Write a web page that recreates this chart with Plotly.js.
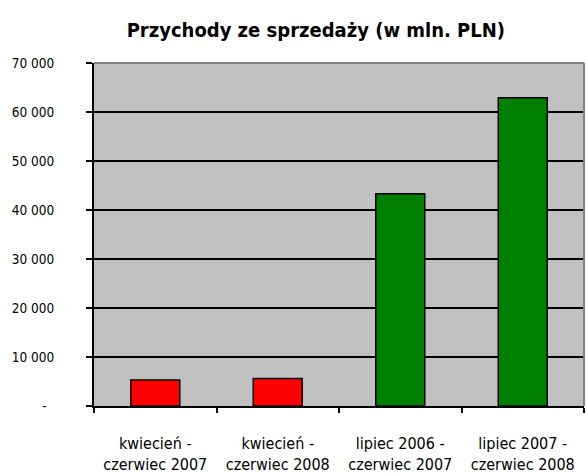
<!DOCTYPE html>
<html>
<head>
<meta charset="utf-8">
<script src="https://cdn.plot.ly/plotly-3.0.1.min.js"></script>
<style>
html,body{margin:0;padding:0;background:#fff;}
#chart{width:586px;height:476px;}
</style>
</head>
<body>
<div id="chart"></div>
<script>
var categories = ["kwiecień -<br>czerwiec 2007", "kwiecień -<br>czerwiec 2008", "lipiec 2006 -<br>czerwiec 2007", "lipiec 2007 -<br>czerwiec 2008"];
var revenue = [5300, 5600, 43300, 62900];
var barColors = ["#FF0000", "#FF0000", "#008000", "#008000"];
var yTickVals = [0, 10000, 20000, 30000, 40000, 50000, 60000, 70000];
var yTickText = ["-\u00a0\u00a0", "10 000", "20 000", "30 000", "40 000", "50 000", "60 000", "70 000"];
var chartTitle = "Przychody ze sprzedaży (w mln. PLN)";

var trace = {
  type: "bar",
  x: categories,
  y: revenue,
  width: 0.4,
  marker: {color: barColors, line: {color: "#000000", width: 1.5}},
  hoverinfo: "x+y"
};

var layout = {
  width: 586,
  height: 476,
  margin: {l: 94, r: 2, t: 63, b: 70, pad: 0},
  paper_bgcolor: "#FFFFFF",
  plot_bgcolor: "#C0C0C0",
  showlegend: false,
  title: {
    text: "<b>" + chartTitle + "</b>",
    font: {family: "DejaVu Sans Condensed, DejaVu Sans", size: 20, color: "#000000"},
    x: 0.539, xref: "container", xanchor: "center",
    y: 0.938, yref: "container", yanchor: "middle"
  },
  xaxis: {
    type: "category",
    showgrid: false,
    showline: true, linecolor: "#000000", linewidth: 2,
    ticks: "outside", tickson: "boundaries", ticklen: 5, tickwidth: 2, tickcolor: "#000000",
    tickfont: {family: "DejaVu Sans Condensed, DejaVu Sans", size: 16, color: "#000000"},
    ticklabelstandoff: 22,
    zeroline: false,
    fixedrange: true
  },
  yaxis: {
    range: [0, 70000],
    tickvals: yTickVals,
    ticktext: yTickText,
    showgrid: true, gridcolor: "#000000", gridwidth: 2,
    showline: true, linecolor: "#000000", linewidth: 2,
    ticks: "outside", ticklen: 6, tickwidth: 2, tickcolor: "#000000",
    tickfont: {family: "DejaVu Sans Condensed, DejaVu Sans", size: 13.5, color: "#000000"},
    ticklabelstandoff: 29,
    zeroline: false,
    fixedrange: true
  },
  shapes: [
    {type: "line", xref: "paper", yref: "paper", x0: 0, x1: 1, y0: 1, y1: 1, line: {color: "#808080", width: 2}, layer: "above"},
    {type: "line", xref: "paper", yref: "paper", x0: 1, x1: 1, y0: 0, y1: 1, line: {color: "#808080", width: 2}, layer: "above"}
  ]
};

Plotly.newPlot("chart", [trace], layout, {displayModeBar: false, staticPlot: true});
</script>
</body>
</html>
